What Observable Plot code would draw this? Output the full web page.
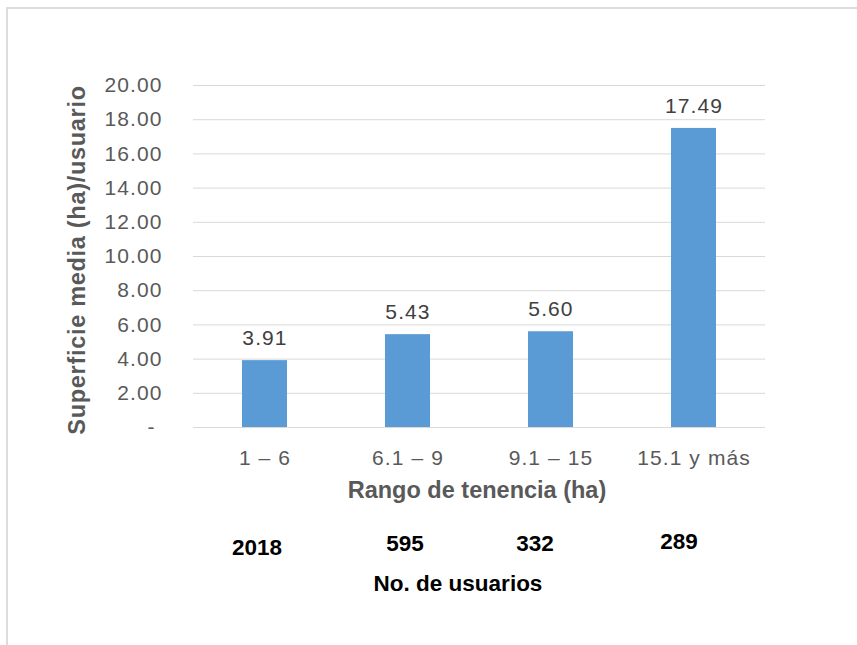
<!DOCTYPE html>
<html>
<head>
<meta charset="utf-8">
<script src="https://cdn.jsdelivr.net/npm/d3@7"></script>
<script src="https://cdn.jsdelivr.net/npm/@observablehq/plot@0.6"></script>
<style>
  html, body { margin: 0; padding: 0; background: #fff; }
  #wrap { position: relative; width: 857px; height: 645px; overflow: hidden; font-family: "Liberation Sans", Arial, sans-serif; }
  #frame { position: absolute; left: 6px; top: 7px; width: 900px; height: 700px; border-left: 2px solid #dcdcdc; border-top: 2px solid #dcdcdc; }
  #chart { position: absolute; left: 0; top: 0; }
  .lbl { position: absolute; white-space: nowrap; line-height: 1; transform: translate(-50%, -50%); }
  #ytitle { font-weight: bold; color: #595959; font-size: 23.5px; letter-spacing: 0.7px; transform: translate(-50%, -50%) rotate(-90deg); }
  #xtitle { font-weight: bold; color: #595959; font-size: 23.5px; }
  .users { font-weight: bold; color: #000; font-size: 22.5px; }
  svg text { letter-spacing: 1.1px; }
</style>
</head>
<body>
<div id="wrap">
  <div id="frame"></div>
  <div id="chart"></div>
</div>
<script>
// Data
const categories = ["1 – 6", "6.1 – 9", "9.1 – 15", "15.1 y más"];
const values = [3.91, 5.43, 5.60, 17.49];
const users = [2018, 595, 332, 289];
const yTicks = [0, 2, 4, 6, 8, 10, 12, 14, 16, 18, 20];
const yTitle = "Superficie media (ha)/usuario";
const xTitle = "Rango de tenencia (ha)";
const usersTitle = "No. de usuarios";

// Layout (positions of free text boxes below the chart)
const userPos = [[257, 548], [405, 544], [535, 544], [679, 542]];
const usersTitlePos = [458, 584];
const xTitlePos = [477, 491];
const yTitlePos = [78, 260];

const data = categories.map((c, i) => ({cat: c, val: values[i]}));

const chart = Plot.plot({
  width: 857,
  height: 510,
  marginLeft: 193,
  marginRight: 92,
  marginTop: 85,
  marginBottom: 83,
  style: {fontFamily: "'Liberation Sans', Arial, sans-serif", fontSize: "21px", color: "#595959", background: "transparent"},
  x: {domain: categories, paddingInner: 0.685, paddingOuter: 0.3425, label: null},
  y: {domain: [0, 20], label: null},
  marks: [
    Plot.ruleY(yTicks, {stroke: "#d9d9d9", strokeWidth: 1}),
    Plot.barY(data, {x: "cat", y: "val", fill: "#5B9BD5"}),
    Plot.text(data, {x: "cat", y: "val", text: d => d.val.toFixed(2), dy: -22, fill: "#404040", fontSize: 21}),
    Plot.axisX({tickSize: 0, tickPadding: 23, label: null, fontSize: 21}),
    Plot.axisY({ticks: yTicks, tickSize: 0, tickPadding: 31, label: null, fontSize: 21,
      tickFormat: d => d === 0 ? "-\u00a0" : d.toFixed(2)})
  ]
});
document.getElementById("chart").appendChild(chart);

const wrap = document.getElementById("wrap");
function addLabel(text, pos, cls, id) {
  const el = document.createElement("div");
  el.className = "lbl " + (cls || "");
  if (id) el.id = id;
  el.textContent = text;
  el.style.left = pos[0] + "px";
  el.style.top = pos[1] + "px";
  wrap.appendChild(el);
}
addLabel(yTitle, yTitlePos, "", "ytitle");
addLabel(xTitle, xTitlePos, "", "xtitle");
users.forEach((u, i) => addLabel(String(u), userPos[i], "users"));
addLabel(usersTitle, usersTitlePos, "users");
</script>
</body>
</html>
